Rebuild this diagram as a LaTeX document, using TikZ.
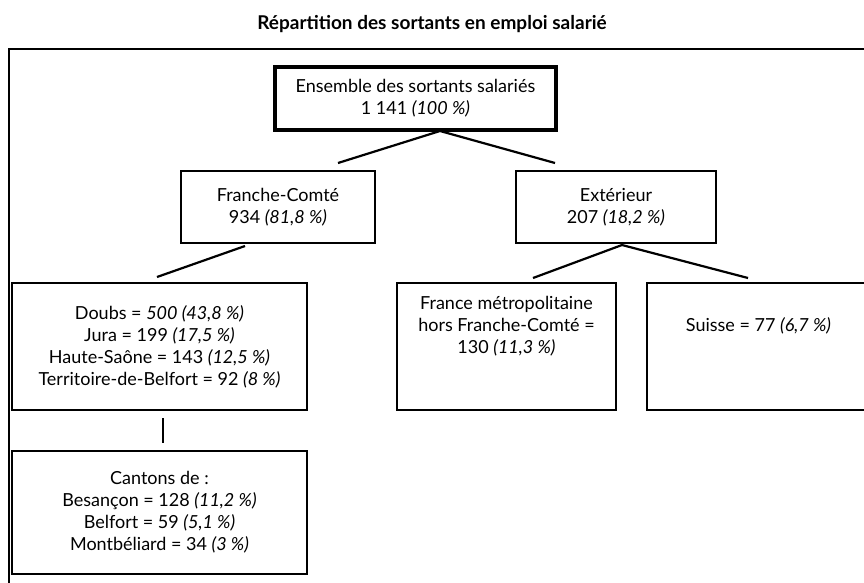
\documentclass[tikz,border=0pt]{standalone}
\usepackage{fontspec}
\setmainfont{Lato}
\begin{document}
\begin{tikzpicture}[x=1pt,y=-1pt,
  box/.style={draw, line width=1.6pt, align=center, inner sep=0pt, font=\fontsize{18}{22}\selectfont},
  link/.style={line width=2.2pt}]
\useasboundingbox (0,0) rectangle (864,582);
\clip (0,0) rectangle (864,582);
\node[font=\bfseries\fontsize{19}{22}\selectfont] (title) at (432,24) {Répartition des sortants en emploi salarié};
\draw[line width=2.6pt] (9,600) -- (9,49) -- (880,49);
\node[box, line width=3.5pt, minimum width=281pt, minimum height=63pt] (top) at (415.5,98.5) {Ensemble des sortants salariés\\1 141 \textit{(100 \%)}};
\node[box, minimum width=194pt, minimum height=72pt] (fc) at (278,207) {Franche-Comté\\934 \textit{(81,8 \%)}};
\node[box, minimum width=200pt, minimum height=72pt] (ext) at (616,207) {Extérieur\\207 \textit{(18,2 \%)}};
\node[box, minimum width=295pt, minimum height=127pt] (doubs) at (159.5,346.5) {Doubs = \textit{500 (43,8 \%)}\\Jura = 199 \textit{(17,5 \%)}\\Haute-Saône = 143 \textit{(12,5 \%)}\\Territoire-de-Belfort = 92 \textit{(8 \%)}};
\node[box, minimum width=219pt, minimum height=127pt] (fm) at (506.5,346.5) {France métropolitaine\\hors Franche-Comté =\\130 \textit{(11,3 \%)}\\[22pt]};
\node[box, minimum width=223pt, minimum height=127pt] (ch) at (758.5,346.5) {Suisse = 77 \textit{(6,7 \%)}\\[22pt]};
\node[box, minimum width=295pt, minimum height=123pt] (cant) at (159.5,512.5) {Cantons de :\\Besançon = 128 \textit{(11,2 \%)}\\Belfort = 59 \textit{(5,1 \%)}\\Montbéliard = 34 \textit{(3 \%)}};
\coordinate (a0) at (440,131);
\coordinate (a1) at (338,163);
\coordinate (a2) at (555,163);
\coordinate (b0) at (245,246);
\coordinate (b1) at (157,277);
\coordinate (c0) at (622,245);
\coordinate (c1) at (533,278);
\coordinate (c2) at (748,278);
\coordinate (d0) at (163,418);
\coordinate (d1) at (163,443);
\draw[link] (a1) -- (a0) -- (a2);
\draw[link] (b0) -- (b1);
\draw[link] (c1) -- (c0) -- (c2);
\draw[link] (d0) -- (d1);
\end{tikzpicture}
\end{document}
